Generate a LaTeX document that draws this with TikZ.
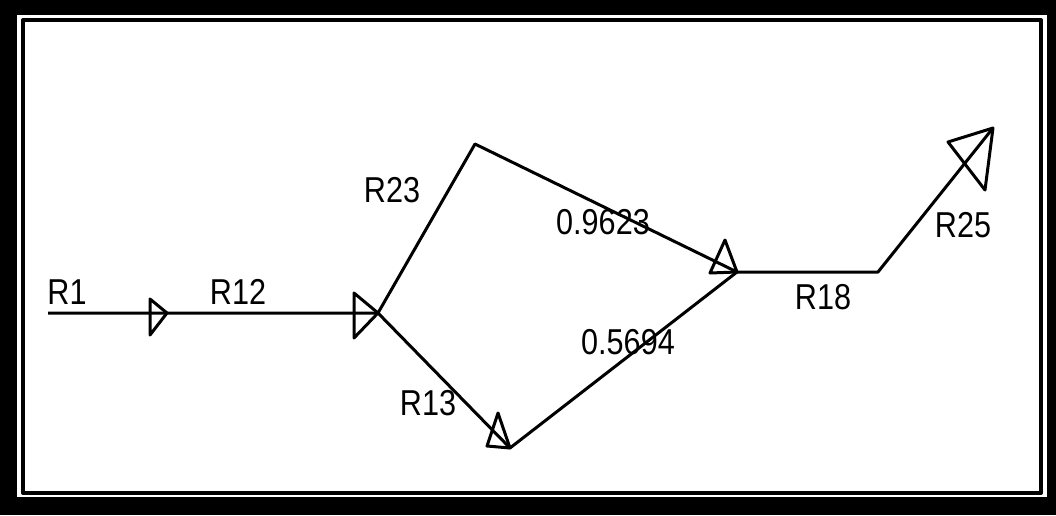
\documentclass[tikz,border=0pt]{standalone}
\usepackage{fontspec}
\setmainfont{Liberation Sans}[FakeStretch=0.85]
\begin{document}
\begin{tikzpicture}[x=0.5pt, y=-0.5pt, line width=1.5pt, line join=round,
		lbl/.style={font=\fontsize{18}{20}\selectfont, inner sep=0pt}]
			\useasboundingbox (0,0) rectangle (1056,515);
			% frame
			\fill (0,0) rectangle (1056,515);
			\fill[white] (17,15) rectangle (1047,497);
			\draw[line width=2pt] (23,20) rectangle (1041,493);
			% junctions
			\coordinate (s) at (48,313);
			\coordinate (a) at (167,313);
			\coordinate (b) at (378,313);
			\coordinate (t) at (475,144);
			\coordinate (d) at (510,448);
			\coordinate (c) at (737,272);
			\coordinate (e) at (878,272);
			\coordinate (f) at (993,128);
			\draw (s) -- (a) -- (b) -- (t) -- (c) -- (e) -- (f);
			\draw (b) -- (d) -- (c);
			% arrow heads
			\draw (a) -- (150,299) -- (150,335) -- cycle;
			\draw (b) -- (354,293) -- (354,338) -- cycle;
			\draw (d) -- (498,413) -- (487,446) -- cycle;
			\draw (c) -- (725,240) -- (710,273) -- cycle;
			\draw (f) -- (948,142) -- (985,190) -- cycle;
			% labels
			\node[lbl] (r1) at (67,292) {R1};
			\node[lbl] (r12) at (238,292) {R12};
			\node[lbl] (r23) at (392,190) {R23};
			\node[lbl] (p1) at (603,222) {0.9623};
			\node[lbl] (r13) at (428,403) {R13};
			\node[lbl] (p2) at (628,342) {0.5694};
			\node[lbl] (r18) at (823,297) {R18};
			\node[lbl] (r25) at (963,225) {R25};
		\end{tikzpicture}
\end{document}
